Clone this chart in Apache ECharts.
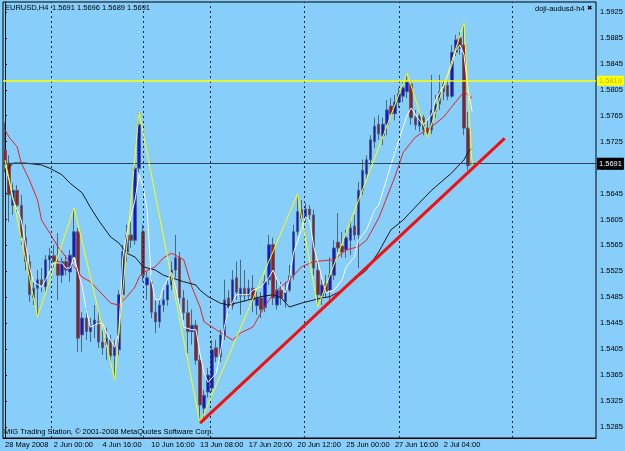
<!DOCTYPE html>
<html><head><meta charset="utf-8">
<script src="https://cdn.jsdelivr.net/npm/echarts@6/dist/echarts.min.js"></script>
<style>html,body{margin:0;padding:0;background:#87cefa}#c{width:625px;height:451px}</style>
</head><body><div id="c"></div>
<script>
// ---- data (EURUSD H4) ----
const SLOTS = 146; // bar slots on the time axis (incl. empty right margin)
const categories = Array.from({length: SLOTS}, (_, i) => String(i));
const tickIdx = [0, 12, 24, 36, 48, 60, 72, 84, 96, 108];
const tickText = ['28 May 2008', '2 Jun 00:00', '4 Jun 16:00', '10 Jun 16:00', '13 Jun 08:00',
  '17 Jun 20:00', '20 Jun 12:00', '25 Jun 00:00', '27 Jun 16:00', '2 Jul 04:00'];
const priceTicks = [1.5925, 1.5885, 1.5845, 1.5805, 1.5765, 1.5725, 1.5685, 1.5645, 1.5605, 1.5565,
  1.5525, 1.5485, 1.5445, 1.5405, 1.5365, 1.5325, 1.5285];

const opens = [1.5712,1.5692,1.5627,1.5650,1.5627,1.5577,1.5540,1.5484,1.5499,1.5512,
1.5501,1.5543,1.5549,1.5540,1.5519,1.5540,1.5524,1.5546,1.5586,1.5427,
1.5453,1.5432,1.5442,1.5447,1.5416,1.5412,1.5419,1.5395,1.5404,1.5489,
1.5555,1.5581,1.5573,1.5684,1.5586,1.5504,1.5509,1.5462,1.5447,1.5473,
1.5481,1.5504,1.5527,1.5546,1.5484,1.5461,1.5432,1.5442,1.5388,1.5314,
1.5339,1.5345,1.5407,1.5393,1.5427,1.5484,1.5472,1.5515,1.5487,1.5499,
1.5487,1.5499,1.5472,1.5484,1.5469,1.5512,1.5566,1.5473,1.5496,1.5478,
1.5496,1.5519,1.5586,1.5620,1.5607,1.5621,1.5612,1.5527,1.5487,1.5506,
1.5496,1.5519,1.5570,1.5564,1.5558,1.5573,1.5595,1.5581,1.5650,1.5675,
1.5697,1.5725,1.5752,1.5734,1.5752,1.5780,1.5768,1.5786,1.5795,1.5802,
1.5814,1.5762,1.5749,1.5762,1.5746,1.5743,1.5771,1.5783,1.5802,1.5812,
1.5795,1.5863,1.5885,1.5874,1.5746,1.5691];
const highs = [1.5755,1.5704,1.5661,1.5658,1.5643,1.5597,1.5550,1.5509,1.5527,1.5530,
1.5550,1.5561,1.5566,1.5584,1.5546,1.5550,1.5558,1.5623,1.5592,1.5462,
1.5469,1.5453,1.5473,1.5466,1.5435,1.5438,1.5427,1.5419,1.5496,1.5566,
1.5597,1.5601,1.5697,1.5771,1.5597,1.5524,1.5519,1.5481,1.5481,1.5496,
1.5512,1.5540,1.5581,1.5555,1.5496,1.5481,1.5466,1.5450,1.5396,1.5342,
1.5376,1.5419,1.5419,1.5435,1.5512,1.5496,1.5527,1.5540,1.5543,1.5527,
1.5512,1.5519,1.5496,1.5493,1.5519,1.5581,1.5577,1.5512,1.5509,1.5509,
1.5535,1.5597,1.5644,1.5635,1.5630,1.5627,1.5620,1.5540,1.5512,1.5519,
1.5547,1.5573,1.5615,1.5586,1.5589,1.5604,1.5612,1.5663,1.5697,1.5704,
1.5735,1.5762,1.5766,1.5762,1.5789,1.5792,1.5797,1.5808,1.5817,1.5831,
1.5820,1.5774,1.5771,1.5766,1.5758,1.5828,1.5797,1.5828,1.5820,1.5820,
1.5874,1.5890,1.5894,1.5908,1.5771,1.5696];
const lows = [1.5678,1.5601,1.5612,1.5617,1.5566,1.5527,1.5478,1.5473,1.5455,1.5493,
1.5493,1.5524,1.5527,1.5481,1.5507,1.5519,1.5509,1.5540,1.5401,1.5401,
1.5419,1.5416,1.5422,1.5407,1.5396,1.5388,1.5385,1.5358,1.5396,1.5481,
1.5540,1.5561,1.5566,1.5678,1.5509,1.5481,1.5453,1.5430,1.5438,1.5462,
1.5472,1.5496,1.5515,1.5473,1.5450,1.5399,1.5412,1.5381,1.5291,1.5299,
1.5330,1.5339,1.5385,1.5385,1.5419,1.5461,1.5466,1.5481,1.5458,1.5478,
1.5481,1.5462,1.5458,1.5453,1.5462,1.5504,1.5473,1.5466,1.5473,1.5469,
1.5493,1.5512,1.5580,1.5601,1.5601,1.5604,1.5519,1.5470,1.5473,1.5484,
1.5476,1.5512,1.5555,1.5546,1.5546,1.5550,1.5573,1.5530,1.5643,1.5666,
1.5689,1.5715,1.5728,1.5720,1.5735,1.5762,1.5758,1.5777,1.5786,1.5792,
1.5751,1.5743,1.5740,1.5735,1.5732,1.5737,1.5762,1.5774,1.5789,1.5789,
1.5792,1.5857,1.5859,1.5735,1.5681,1.5689];
const closes = [1.5692,1.5643,1.5650,1.5627,1.5577,1.5540,1.5489,1.5499,1.5512,1.5504,
1.5543,1.5549,1.5540,1.5519,1.5540,1.5527,1.5550,1.5586,1.5422,1.5453,
1.5432,1.5442,1.5450,1.5416,1.5407,1.5422,1.5395,1.5412,1.5489,1.5555,
1.5581,1.5573,1.5684,1.5751,1.5519,1.5515,1.5462,1.5447,1.5473,1.5481,
1.5504,1.5527,1.5546,1.5484,1.5461,1.5432,1.5442,1.5388,1.5319,1.5334,
1.5365,1.5404,1.5393,1.5427,1.5481,1.5469,1.5512,1.5493,1.5499,1.5487,
1.5499,1.5481,1.5484,1.5466,1.5509,1.5566,1.5484,1.5496,1.5484,1.5496,
1.5519,1.5586,1.5617,1.5607,1.5621,1.5612,1.5530,1.5489,1.5504,1.5493,
1.5519,1.5561,1.5561,1.5555,1.5577,1.5592,1.5581,1.5650,1.5681,1.5697,
1.5728,1.5749,1.5737,1.5752,1.5774,1.5768,1.5786,1.5799,1.5808,1.5817,
1.5762,1.5751,1.5765,1.5743,1.5737,1.5774,1.5783,1.5802,1.5814,1.5795,
1.5863,1.5882,1.5869,1.5746,1.5688,1.5691];

// indicator lines: [bar, price]
const maRed = [[0,1.5743],[1,1.5732],[3,1.5717],[4,1.5692],[6,1.5666],[8,1.5635],[9,1.5604],[11,1.5584],
[13,1.5563],[15,1.5547],[17,1.5532],[19,1.5516],[21,1.5509],[23,1.5496],[26,1.5476],[28,1.5473],
[30,1.5486],[32,1.5501],[33,1.5516],[34,1.5523],[37,1.5532],[39,1.5546],[41,1.5553],[44,1.5543],
[46,1.5501],[48,1.5470],[49,1.5447],[52,1.5435],[54,1.5427],[56,1.5419],[58,1.5430],[61,1.5439],
[63,1.5461],[65,1.5481],[67,1.5496],[70,1.5512],[73,1.5532],[76,1.5540],[81,1.5543],[84,1.5558],
[87,1.5563],[89,1.5573],[92,1.5607],[96,1.5671],[98,1.5708],[101,1.5732],[105,1.5748],[108,1.5763],
[110,1.5779],[113,1.5802],[115,1.5792]];
const maBlack = [[0,1.5678],[2,1.5692],[5,1.5692],[9,1.5689],[11,1.5684],[14,1.5674],[16,1.5661],
[19,1.5646],[21,1.5624],[23,1.5604],[26,1.5578],[28,1.5569],[30,1.5553],[32,1.5547],[34,1.5532],
[37,1.5527],[39,1.5519],[44,1.5509],[47,1.5504],[48,1.5496],[50,1.5486],[53,1.5476],[55,1.5473],
[60,1.5481],[63,1.5486],[66,1.5489],[68,1.5484],[70,1.5470],[73,1.5476],[78,1.5484],[80,1.5486],
[83,1.5496],[86,1.5512],[89,1.5527],[92,1.5555],[95,1.5589],[98,1.5604],[101,1.5624],[105,1.5650],
[110,1.5677],[113,1.5697],[114,1.5709],[115,1.5715]];
const maWhite = [[0,1.5689],[1,1.5666],[2,1.5635],[4,1.5604],[5,1.5569],[6,1.5532],[7,1.5509],[9,1.5501],
[10,1.5512],[12,1.5538],[14,1.5538],[15,1.5530],[16,1.5530],[17,1.5547],[19,1.5501],[20,1.5466],
[21,1.5439],[23,1.5445],[24,1.5445],[25,1.5430],[27,1.5408],[28,1.5430],[29,1.5547],[30,1.5584],
[32,1.5635],[33,1.5674],[34,1.5655],[35,1.5620],[36,1.5512],[37,1.5481],[38,1.5481],[39,1.5501],
[41,1.5523],[42,1.5501],[43,1.5470],[44,1.5439],[46,1.5435],[47,1.5435],[48,1.5399],[49,1.5368],
[50,1.5354],[52,1.5368],[53,1.5399],[54,1.5439],[55,1.5466],[57,1.5489],[60,1.5489],[61,1.5496],
[63,1.5501],[65,1.5516],[66,1.5527],[67,1.5512],[69,1.5492],[70,1.5512],[71,1.5553],[73,1.5589],
[74,1.5609],[75,1.5604],[76,1.5563],[78,1.5516],[79,1.5492],[81,1.5496],[83,1.5512],[84,1.5532],
[86,1.5547],[87,1.5573],[89,1.5589],[91,1.5620],[92,1.5627],[95,1.5689],[97,1.5728],[99,1.5766],
[100,1.5777],[102,1.5758],[103,1.5751],[105,1.5766],[106,1.5789],[108,1.5812],[110,1.5843],
[111,1.5866],[112,1.5874],[113,1.5859],[114,1.5805],[115,1.5771]];
const zigzag = [[0,1.5697],[8,1.5455],[17,1.5623],[27,1.5358],[33,1.5771],[48,1.5291],[72,1.5644],
[77,1.5470],[99,1.5831],[104,1.5732],[113,1.5908],[115,1.5689]];
const trendLine = [[48,1.5291],[123,1.5730]];
const levelLine = 1.5819;
const bidPrice = 1.5691;
const separators = [11.3, 34.0, 50.5, 73.6, 97.0, 124.8];

// ---- chart ----
const FONT = "'Liberation Sans',Arial,sans-serif";
const FS = 7.5;
const last = opens.length - 1;
const showTick = (i) => tickIdx.indexOf(i) >= 0;
const chart = echarts.init(document.getElementById('c'), null, {renderer: 'canvas'});
const lineS = (name, data, color, width, z) => ({
  type: 'line', name, xAxisIndex: 1, yAxisIndex: 0, data, symbol: 'none', z: z || 3,
  lineStyle: {color, width}, silent: true
});
chart.setOption({
  animation: false,
  backgroundColor: '#87cefa',
  textStyle: {fontFamily: FONT},
  grid: {left: 3, right: 29, top: 2, bottom: 13, show: true, borderColor: '#000', borderWidth: 1,
    outerBoundsMode: 'none', containLabel: false},
  xAxis: [{
    type: 'category', data: categories, boundaryGap: true,
    axisLine: {lineStyle: {color: '#000', width: 1}},
    axisTick: {interval: (i) => showTick(i), length: 3, lineStyle: {color: '#000'}},
    axisLabel: {interval: (i) => showTick(i), formatter: (v, i) => tickText[tickIdx.indexOf(i)] || '',
      align: 'left', margin: 3, fontSize: FS, color: '#000', fontFamily: FONT,
      hideOverlap: false, showMinLabel: true, showMaxLabel: true},
    splitLine: {show: false}
  }, {
    type: 'value', min: -0.5, max: SLOTS - 0.5, show: false
  }],
  yAxis: [{
    type: 'value', position: 'right', min: 1.5268, max: 1.59404, scale: true,
    axisLine: {show: true, lineStyle: {color: '#000'}},
    axisTick: {show: true, customValues: priceTicks, length: 2, lineStyle: {color: '#000'}},
    axisLabel: {customValues: priceTicks, formatter: (v) => v.toFixed(4), margin: 4,
      fontSize: FS, color: '#000', fontFamily: FONT, hideOverlap: false},
    splitLine: {show: false}
  }],
  graphic: [
    {type: 'text', left: 5, top: 4, style: {text: 'EURUSD,H4', fontSize: FS, fontFamily: FONT, fill: '#000'}},
    {type: 'text', left: 52, top: 4, style: {text: [opens[last], highs[last], lows[last], closes[last]].map(v => v.toFixed(4)).join(' '),
      fontSize: FS, fontFamily: FONT, fill: '#000'}},
    {type: 'text', left: 535, top: 5, style: {text: 'doji-audusd-h4', fontSize: FS, fontFamily: FONT, fill: '#000'}},
    {type: 'text', left: 587, top: 5, style: {text: '\u2716', fontSize: 6.5, fontFamily: 'DejaVu Sans', fill: '#000'}},
    {type: 'text', left: 4, top: 428, style: {text: 'MIG Trading Station, \u00a9 2001-2008 MetaQuotes Software Corp.',
      fontSize: FS, fontFamily: FONT, fill: '#000'}}
  ],
  series: [
    {
      type: 'line', xAxisIndex: 1, yAxisIndex: 0, data: [], symbol: 'none', silent: true, z: 1,
      markLine: {
        silent: true, symbol: 'none', animation: false, precision: 4,
        data: [
          ...separators.map(v => ({xAxis: v, lineStyle: {color: '#1c2a38', width: 1, type: [2, 3]}, label: {show: false}})),
          {yAxis: bidPrice, lineStyle: {color: '#2e4257', width: 1, type: 'solid'},
            label: {show: true, position: 'end', distance: 1, formatter: bidPrice.toFixed(4), color: '#fff',
              backgroundColor: '#000', padding: [2, 2, 2, 2], fontSize: FS, fontFamily: FONT}},
          {yAxis: levelLine, lineStyle: {color: '#ffff00', width: 1.5, type: 'solid'},
            label: {show: true, position: 'end', distance: 1, formatter: levelLine.toFixed(4), color: '#b8b800',
              backgroundColor: '#ffff00', padding: [1, 2, 1, 2], fontSize: FS, fontFamily: FONT}}
        ]
      }
    },
    {
      type: 'candlestick', xAxisIndex: 0, yAxisIndex: 0, z: 2, silent: true,
      data: opens.map((o, i) => [o, closes[i], lows[i], highs[i]]),
      barWidth: 3,
      itemStyle: {color: '#1414e6', color0: '#a3161c', borderColor: '#4c6680', borderColor0: '#4c6680', borderWidth: 1}
    },
    lineS('ma-red', maRed, '#e8202a', 1, 3),
    lineS('ma-black', maBlack, '#1a1a1a', 1, 3),
    lineS('ma-white', maWhite, '#f4fbff', 1, 4),
    lineS('zigzag', zigzag, '#ffff00', 1, 5),
    lineS('trend', trendLine, '#f01010', 3, 6)
  ]
});
</script></body></html>
